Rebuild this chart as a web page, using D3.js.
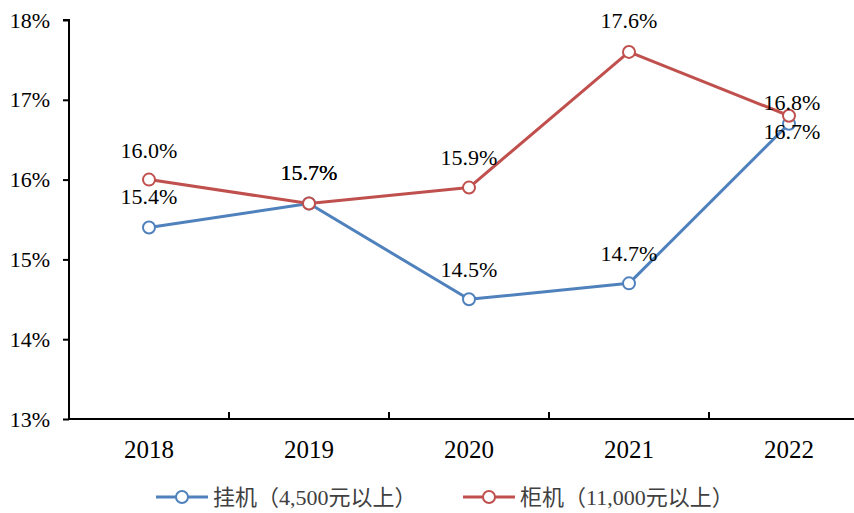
<!DOCTYPE html>
<html>
<head>
<meta charset="utf-8">
<script src="https://cdn.jsdelivr.net/npm/d3@7/dist/d3.min.js"></script>
<style>
  html, body { margin: 0; padding: 0; background: #fff; }
  svg { display: block; }
  svg text { font-family: "Liberation Serif", "Noto Sans CJK SC", serif !important; fill: #000; }
  svg text.legend { fill: #404040; }
</style>
</head>
<body>
<svg id="chart" width="854" height="513"></svg>
<script>
// Chart data
const years = ["2018", "2019", "2020", "2021", "2022"];
const wallUnit = [15.4, 15.7, 14.5, 14.7, 16.7];      // 挂机（4,500元以上）
const floorUnit = [16.0, 15.7, 15.9, 17.6, 16.8];     // 柜机（11,000元以上）
const seriesNames = ["挂机（4,500元以上）", "柜机（11,000元以上）"];
const yTicks = [13, 14, 15, 16, 17, 18];

const colors = ["#4F81BD", "#C0504D"];

const svg = d3.select("#chart");

const x = d3.scaleBand().domain(years).range([69, 869]);
const y = d3.scaleLinear().domain([13, 18]).range([419, 20]);

// Y axis
const yAxis = d3.axisLeft(y).tickValues(yTicks).tickSize(6).tickPadding(13)
  .tickFormat(d => d + "%");
svg.append("g").attr("transform", "translate(69,0)").call(yAxis)
  .attr("font-family", null).attr("font-size", null)
  .call(g => g.select(".domain").attr("stroke", "#000").attr("stroke-width", 2).attr("d", "M-6,20H0V419"))
  .call(g => g.selectAll(".tick line").attr("stroke", "#000").attr("stroke-width", 2))
  .call(g => g.selectAll(".tick text").attr("fill", "#000").style("font-size", "22px"));

// X axis with ticks at band boundaries pointing up
const xg = svg.append("g").attr("transform", "translate(0,419)");
xg.append("line").attr("x1", 69).attr("x2", 869).attr("y1", 0).attr("y2", 0)
  .attr("stroke", "#000").attr("stroke-width", 2);
xg.selectAll("line.tk").data(years.slice(1)).join("line").attr("class", "tk")
  .attr("x1", d => x(d)).attr("x2", d => x(d)).attr("y1", 0).attr("y2", -7)
  .attr("stroke", "#000").attr("stroke-width", 2);
xg.selectAll("text").data(years).join("text")
  .attr("x", d => x(d) + x.bandwidth() / 2).attr("y", 39)
  .attr("text-anchor", "middle").style("font-size", "25px").text(d => d);

const cx = d => x(d) + x.bandwidth() / 2;
const line = d3.line().x((d, i) => cx(years[i])).y(d => y(d));

// Label vertical offsets relative to each point
const labelDy = [
  [-23, -24, -22, -22, 15],
  [-22, -24, -23, -24, -6]
];

[wallUnit, floorUnit].forEach((vals, s) => {
  svg.append("path").datum(vals).attr("d", line)
    .attr("fill", "none").attr("stroke", colors[s]).attr("stroke-width", 3)
    .attr("stroke-linejoin", "round");
});

[wallUnit, floorUnit].forEach((vals, s) => {
  svg.selectAll(null).data(vals).join("circle")
    .attr("cx", (d, i) => cx(years[i])).attr("cy", d => y(d)).attr("r", 6)
    .attr("fill", "#fff").attr("stroke", colors[s]).attr("stroke-width", 2);
});

[wallUnit, floorUnit].forEach((vals, s) => {
  svg.selectAll(null).data(vals).join("text")
    .attr("x", (d, i) => cx(years[i]) + (i === 4 ? 3 : 0))
    .attr("y", (d, i) => y(d) + labelDy[s][i])
    .attr("text-anchor", "middle").style("font-size", "22px")
    .text(d => d.toFixed(1) + "%");
});

// Legend
const legendX = [156, 463];
seriesNames.forEach((name, s) => {
  const g = svg.append("g").attr("transform", `translate(${legendX[s]},497)`);
  g.append("line").attr("x1", 0).attr("x2", 52).attr("y1", 0).attr("y2", 0)
    .attr("stroke", colors[s]).attr("stroke-width", 3);
  g.append("circle").attr("cx", 26).attr("cy", 0).attr("r", 6)
    .attr("fill", "#fff").attr("stroke", colors[s]).attr("stroke-width", 2);
  g.append("text").attr("class", "legend").attr("x", 57).attr("y", 8)
    .style("font-size", "22px").text(name);
});
</script>
</body>
</html>
